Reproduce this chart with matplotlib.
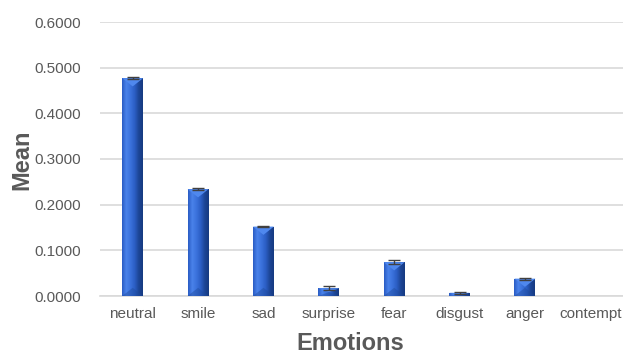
import matplotlib.pyplot as plt
import matplotlib.colors as mcolors
import numpy as np

# Mean emotion scores with small error margins
emotions = ["neutral", "smile", "sad", "surprise", "fear", "disgust", "anger", "contempt"]
means = [0.477, 0.234, 0.152, 0.017, 0.074, 0.007, 0.038, 0.0]
errors = [0.002, 0.002, 0.001, 0.004, 0.004, 0.002, 0.002, 0.0]
yticks = [0.0, 0.1, 0.2, 0.3, 0.4, 0.5, 0.6]

plt.rcParams["font.family"] = ["Liberation Sans", "DejaVu Sans"]

TEXT_GREY = "#595959"
GRID_GREY = "#d9d9d9"

fig = plt.figure(figsize=(6.23, 3.56), dpi=100)
fig.patch.set_facecolor("white")
ax = fig.add_axes([100 / 623, 1 - 296 / 356, 523 / 623, 274 / 356])

x = np.arange(len(emotions))
bar_w = 0.32
bars = ax.bar(x, means, bar_w, color="#2f62c8", edgecolor="none", zorder=3)

# horizontal gradient: light left face, dark right face
grad = mcolors.LinearSegmentedColormap.from_list(
    "bevel", ["#2a5cc4", "#4a82ea", "#3b72dc", "#2c5fc6", "#1d4697", "#163a80"])
strip = np.linspace(0, 1, 64).reshape(1, -1)
for bar in bars:
    h = bar.get_height()
    if h <= 0:
        continue
    x0 = bar.get_x()
    im = ax.imshow(strip, cmap=grad, aspect="auto", zorder=3.5,
                   extent=(x0, x0 + bar_w, 0, h), interpolation="bilinear")
    im.set_clip_path(bar)
    # bevelled top and bottom faces
    tri_h = min(h * 0.5, 0.018)
    ax.fill([x0, x0 + bar_w, x0 + bar_w / 2], [h, h, h - tri_h],
            color="#4f88ee", zorder=4, lw=0)
    ax.fill([x0, x0 + bar_w, x0 + bar_w / 2], [0, 0, min(tri_h, h)],
            color="#1e4a9c", zorder=4, lw=0, alpha=0.45)

# error caps only where there is an error
has_err = [e > 0 for e in errors]
ax.errorbar(x[has_err], np.array(means)[has_err], yerr=np.array(errors)[has_err],
            fmt="none", ecolor="#404040", elinewidth=1, capsize=4, capthick=1, zorder=5)

ax.set_xlim(-0.5, len(emotions) - 0.5)
ax.set_ylim(0, 0.6)
ax.set_yticks(yticks)
ax.set_yticklabels([f"{v:.4f}" for v in yticks])
ax.set_xticks(x)
ax.set_xticklabels(emotions)
ax.tick_params(axis="both", length=0, labelsize=11, colors=TEXT_GREY)
ax.tick_params(axis="y", pad=14)
ax.tick_params(axis="x", pad=8)

ax.grid(axis="y", color=GRID_GREY, linewidth=1.2, zorder=0)
ax.set_axisbelow(True)
for side in ["top", "right", "left"]:
    ax.spines[side].set_visible(False)
ax.spines["bottom"].set_color(GRID_GREY)
ax.spines["bottom"].set_linewidth(1.2)

fig.text(350 / 623, 1 - 343 / 356, "Emotions", fontsize=17, fontweight="bold",
         color=TEXT_GREY, ha="center", va="center")
fig.text(22 / 623, 1 - 160 / 356, "Mean", fontsize=17, fontweight="bold",
         color=TEXT_GREY, ha="center", va="center", rotation=90)

fig.savefig("out.png", dpi=100, facecolor="white")
